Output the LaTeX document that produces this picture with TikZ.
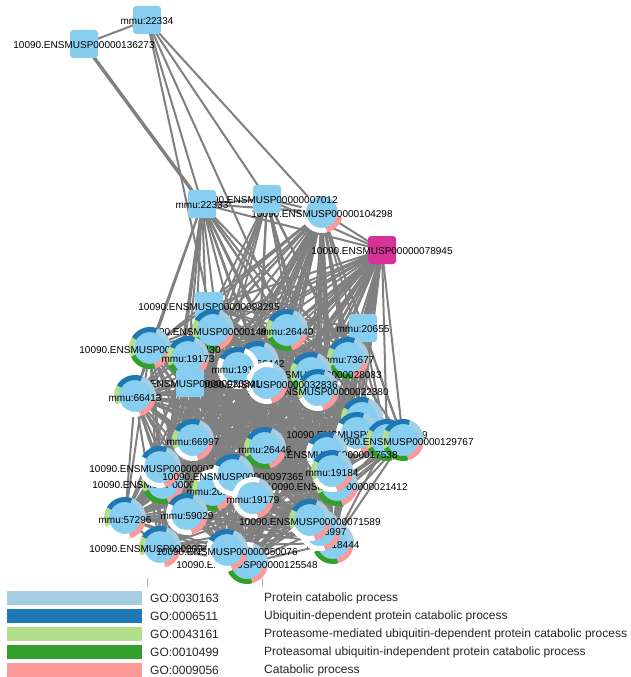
\documentclass[tikz,border=0pt]{standalone}
\usepackage{fontspec}
\setmainfont{Liberation Sans}
\definecolor{nodeblue}{RGB}{135,206,240}
\definecolor{hubpink}{RGB}{214,51,153}
\definecolor{edgegrey}{RGB}{128,128,128}
\definecolor{golb}{HTML}{A6CEE3}
\definecolor{godb}{HTML}{1F78B4}
\definecolor{golg}{HTML}{B2DF8A}
\definecolor{gog}{HTML}{33A02C}
\definecolor{gop}{HTML}{FB9A99}

% one coloured (or empty) sector of the annotation ring
\newcommand\ringseg[5]{%
  \ifnum#2=1\relax\def\segcol{#3}\else\def\segcol{white}\fi
  \draw[draw=\segcol, line width=5pt] ([shift={(#4:18.5)}]#1) arc[start angle=#4, end angle=#5, radius=18.5];}

% protein with GO ring: name, five flags (LB DB LG G P), label
\newcommand\gonode[7]{%
  \fill[nodeblue] (#1) circle[radius=16];
  \ringseg{#1}{#2}{golb}{-15}{70}%
  \ringseg{#1}{#3}{godb}{70}{150}%
  \ringseg{#1}{#4}{golg}{150}{205}%
  \ringseg{#1}{#5}{gog}{205}{285}%
  \ringseg{#1}{#6}{gop}{285}{345}%
  \node[lbl, yshift=-2pt] (#1-l) at (#1) {#7};}

% protein without annotation: name, fill, label
\newcommand\squarenode[3]{%
  \node[boxnode, fill=#2] (#1-b) at (#1) {};
  \node[lbl, yshift=-1pt] (#1-l) at (#1) {#3};}

\begin{document}
\begin{tikzpicture}[x=1pt,y=1pt,
  edge/.style={draw=edgegrey, line width=2pt},
  lbl/.style={font=\fontsize{10}{11}\selectfont, inner sep=0pt, text=black},
  boxnode/.style={rounded corners=3pt, minimum size=28pt, inner sep=0pt},
  legtext/.style={font=\fontsize{12}{14}\selectfont, anchor=west, inner sep=0pt, text=black!85}]
\useasboundingbox (0,0) rectangle (631,-677);
\fill[white] (0,0) rectangle (631,-677);

% ---- node positions ----
\coordinate (s22334) at (147,-20);
\coordinate (s136273) at (84,-44);
\coordinate (s22333) at (202,-204);
\coordinate (s07012) at (267,-199);
\coordinate (n104298) at (322,-212);
\coordinate (s78945) at (382,-250);

\coordinate (s98295) at (209,-306);
\coordinate (s20655) at (363,-328);
\coordinate (s20341) at (190,-383);
\coordinate (nA) at (150,-348);
\coordinate (nB) at (213,-330);
\coordinate (n26440) at (287,-330);
\coordinate (n73677) at (348,-358);
\coordinate (n28083) at (311,-373);
\coordinate (n32836) at (267,-383);
\coordinate (n22380) at (318,-390);
\coordinate (n66442) at (258,-362);
\coordinate (n19182) at (238,-368);
\coordinate (n19173) at (188,-357);
\coordinate (n66413) at (135,-396);
\coordinate (n66997) at (193,-440);
\coordinate (n26446) at (265,-448);
\coordinate (n07212) at (160,-467);
\coordinate (n35185) at (163,-483);
\coordinate (n97365) at (233,-475);
\coordinate (n20848) at (213,-490);
\coordinate (n19179) at (253,-498);
\coordinate (nX70) at (362,-418);
\coordinate (n00769) at (357,-433);
\coordinate (nX87) at (387,-440);
\coordinate (n129767) at (403,-440);
\coordinate (n17538) at (327,-453);
\coordinate (n19184) at (332,-471);
\coordinate (n21412) at (337,-485);
\coordinate (n57296) at (125,-518);
\coordinate (n59029) at (187,-514);
\coordinate (n71589) at (310,-520);
\coordinate (n3997) at (320,-530);
\coordinate (n8444) at (333,-543);
\coordinate (n41968) at (160,-547);
\coordinate (n50076) at (227,-550);
\coordinate (n125548) at (247,-563);

\def\clusterlist{s98295,nA,nB,n26440,s20655,n73677,n28083,n32836,n22380,n66442,n19182,n19173,s20341,n66413,n66997,n26446,n07212,n35185,n97365,n20848,n19179,n00769,nX70,nX87,n129767,n17538,n19184,n21412,n57296,n59029,n71589,n3997,n8444,n41968,n50076,n125548}

% ---- interactions ----
\foreach \a [count=\i] in \clusterlist {
  \foreach \b [count=\j] in \clusterlist {
    \ifnum\j>\i\relax
      \pgfmathtruncatemacro\k{mod(\i*7+\j*3,6)}%
      \ifnum\k>0\relax \draw[edge] (\a) -- (\b);\fi
    \fi}}
\foreach \b [count=\j] in \clusterlist {
  \draw[edge] (n104298) -- (\b);
  \draw[edge] (s78945) -- (\b);
  \pgfmathtruncatemacro\k{mod(\j,2)}%
  \ifnum\k=0\relax \draw[edge] (s22333) -- (\b);\fi
  \pgfmathtruncatemacro\k{mod(\j,3)}%
  \ifnum\k=0\relax \draw[edge] (s07012) -- (\b);\fi}
\draw[edge] (s22333) -- (s07012);
\draw[edge] (s22333) -- (n104298);
\draw[edge] (s22333) -- (s78945);
\draw[edge] (s07012) -- (n104298);
\draw[edge] (s07012) -- (s78945);
\draw[edge] (n104298) -- (s78945);
\draw[edge] (s22334) -- (s136273);
\draw[edge] (s22334) -- (s22333);
\draw[edge] (s22334) -- (s98295);
\draw[edge] (s22334) -- (n26440);
\draw[edge] (s22334) -- (s07012);
\draw[edge] (s22334) -- (n104298);
\draw[edge, line width=3.4pt] (s136273) -- (s22333);

% ---- proteins ----
\squarenode{s136273}{nodeblue}{10090.ENSMUSP00000136273}
\squarenode{s22334}{nodeblue}{mmu:22334}
\gonode{n104298}{0}{0}{0}{0}{1}{10090.ENSMUSP00000104298}
\squarenode{s07012}{nodeblue}{10090.ENSMUSP00000007012}
\squarenode{s22333}{nodeblue}{mmu:22333}
\squarenode{s78945}{hubpink}{10090.ENSMUSP00000078945}

\squarenode{s98295}{nodeblue}{10090.ENSMUSP00000098295}
\gonode{nB}{1}{1}{1}{1}{1}{10090.ENSMUSP00000149614}
\gonode{nA}{1}{1}{1}{1}{1}{10090.ENSMUSP00000034430}
\gonode{n19173}{1}{1}{1}{1}{1}{mmu:19173}
\gonode{n26440}{1}{1}{1}{1}{1}{mmu:26440}
\squarenode{s20655}{nodeblue}{mmu:20655}
\gonode{n73677}{1}{1}{1}{1}{1}{mmu:73677}
\gonode{n66442}{1}{1}{1}{0}{1}{mmu:66442}
\gonode{n28083}{1}{1}{1}{1}{1}{10090.ENSMUSP00000028083}
\gonode{n19182}{0}{1}{0}{0}{1}{mmu:19182}
\gonode{n22380}{1}{1}{1}{0}{1}{10090.ENSMUSP00000022380}
\gonode{n32836}{1}{0}{0}{0}{1}{10090.ENSMUSP00000032836}
\squarenode{s20341}{nodeblue}{10090.ENSMUSP00000020341}
\gonode{n66413}{1}{1}{1}{0}{1}{mmu:66413}
\gonode{nX70}{1}{1}{1}{0}{1}{}
\gonode{n00769}{1}{1}{0}{0}{1}{10090.ENSMUSP00000000769}
\gonode{nX87}{1}{1}{1}{1}{1}{}
\gonode{n129767}{1}{1}{1}{1}{1}{10090.ENSMUSP00000129767}
\gonode{n17538}{1}{1}{0}{0}{1}{10090.ENSMUSP00000017538}
\gonode{n21412}{1}{1}{1}{1}{1}{10090.ENSMUSP00000021412}
\gonode{n19184}{1}{1}{1}{0}{1}{mmu:19184}
\gonode{n66997}{1}{1}{1}{0}{1}{mmu:66997}
\gonode{n26446}{1}{1}{1}{1}{1}{mmu:26446}
\gonode{n35185}{1}{1}{1}{1}{1}{10090.ENSMUSP00000035185}
\gonode{n07212}{1}{1}{0}{0}{1}{10090.ENSMUSP00000007212}
\gonode{n20848}{1}{0}{1}{1}{1}{mmu:20848}
\gonode{n97365}{1}{1}{0}{0}{1}{10090.ENSMUSP00000097365}
\gonode{n19179}{1}{0}{0}{0}{1}{mmu:19179}
\gonode{n57296}{1}{1}{1}{0}{1}{mmu:57296}
\gonode{n59029}{1}{1}{0}{0}{1}{mmu:59029}
\gonode{n8444}{1}{0}{0}{1}{1}{mmu:18444}
\gonode{n3997}{1}{1}{1}{0}{1}{mmu:13997}
\gonode{n71589}{1}{1}{1}{0}{1}{10090.ENSMUSP00000071589}
\gonode{n41968}{1}{1}{1}{0}{1}{10090.ENSMUSP00000041968}
\gonode{n125548}{1}{0}{0}{1}{1}{10090.ENSMUSP00000125548}
\gonode{n50076}{1}{1}{0}{0}{1}{10090.ENSMUSP00000050076}

% ---- legend ----
\draw[black!30, line width=0.8pt] (147,-578) -- (147,-587);
\draw[black!30, line width=0.8pt] (262,-578) -- (262,-587);
\foreach \c/\code/\desc [count=\r from 0] in {
  golb/GO:0030163/Protein catabolic process,
  godb/GO:0006511/Ubiquitin-dependent protein catabolic process,
  golg/GO:0043161/Proteasome-mediated ubiquitin-dependent protein catabolic process,
  gog/GO:0010499/Proteasomal ubiquitin-independent protein catabolic process,
  gop/GO:0009056/Catabolic process} {
  \fill[\c] (7,{-(591+18*\r)}) rectangle (142,{-(605+18*\r)});
  \node[legtext] (code\r) at (150,{-(598+18*\r)}) {\code};
  \node[legtext] (desc\r) at (264,{-(598+18*\r)}) {\desc};
}
\end{tikzpicture}
\end{document}
